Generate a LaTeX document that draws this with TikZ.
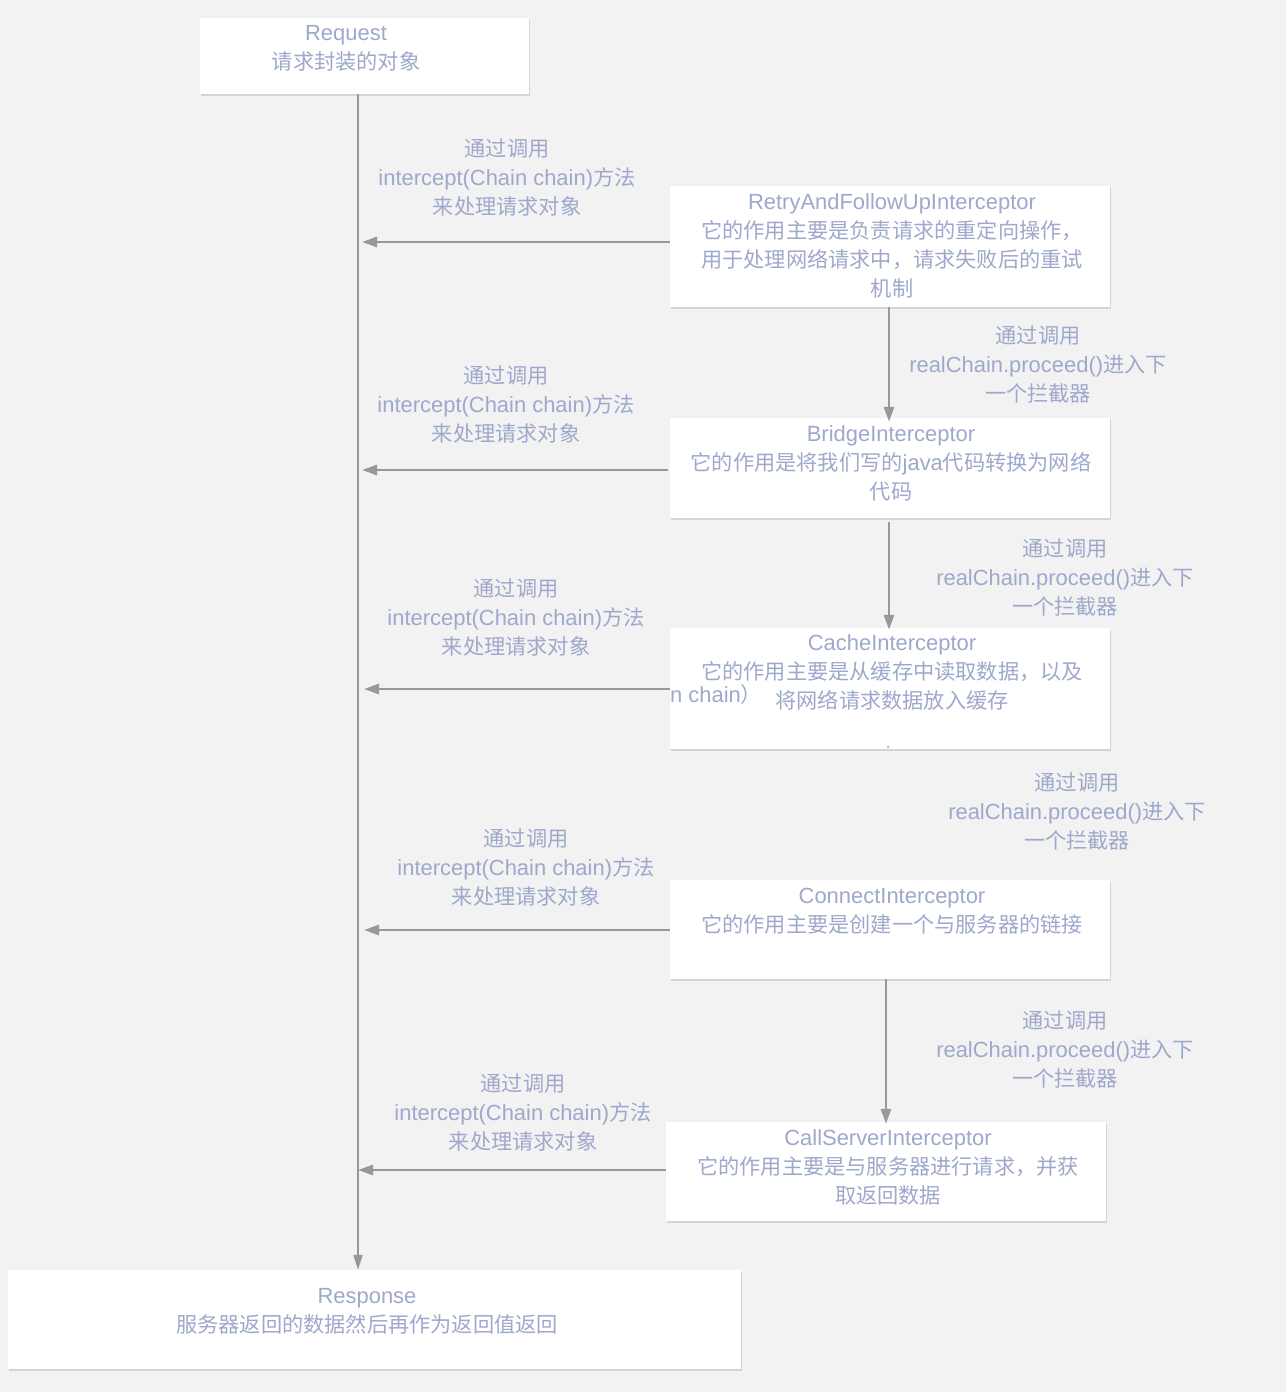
\documentclass[tikz,border=0pt]{standalone}
\usepackage{fontspec}
\setmainfont[Scale=1.035]{Liberation Sans}
\newfontfamily\cjkf{Noto Sans CJK SC}
\newcommand{\zh}[1]{{\cjkf #1}}
\usetikzlibrary{arrows.meta,shadows}
\definecolor{bg}{RGB}{242,242,242}
\definecolor{txt}{RGB}{158,168,204}
\definecolor{ln}{RGB}{152,152,152}
\tikzset{
  box/.style={draw=none,fill=white,inner sep=0pt,
    drop shadow={shadow xshift=1pt,shadow yshift=-2pt,opacity=0.12,fill=black}},
  tx/.style={text=txt,align=center,inner sep=0pt,font=\fontsize{21.2}{29}\selectfont},
  arr/.style={draw=ln,line width=2.8pt,-{Triangle[length=15pt,width=10pt]}},
  mainln/.style={draw=ln,line width=2pt,-{Triangle[length=15pt,width=9pt]}}
}
\begin{document}
\begin{tikzpicture}[x=1pt,y=-1pt]
\fill[bg] (0,0) rectangle (1286,1392);
\useasboundingbox (0,0) rectangle (1286,1392);
% boxes
\node[box,minimum width=329pt,minimum height=76pt] (req) at (364.5,56) {};
\node[box,minimum width=733pt,minimum height=99pt] (resp) at (374.5,1319.5) {};
\node[box,minimum width=440pt,minimum height=121pt] (retry) at (890,246.5) {};
\node[box,minimum width=440pt,minimum height=100pt] (bridge) at (890,468) {};
\node[box,minimum width=440pt,minimum height=121pt] (cache) at (890,688.5) {};
\node[box,minimum width=440pt,minimum height=99pt] (conn) at (890,929.5) {};
\node[box,minimum width=440pt,minimum height=99pt] (call) at (886,1171.5) {};
% box texts
\node[tx] (reqt) at (346,48) {Request\\\zh{请求封装的对象}};
\node[tx] (respt) at (367,1311) {Response\\\zh{服务器返回的数据然后再作为返回值返回}};
\node[tx] (retryt) at (892,245.5) {RetryAndFollowUpInterceptor\\\zh{它的作用主要是负责请求的重定向操作，}\\\zh{用于处理网络请求中，请求失败后的重试}\\\zh{机制}};
\node[tx] (bridget) at (891,463.5) {BridgeInterceptor\\\zh{它的作用是将我们写的}java\zh{代码转换为网络}\\\zh{代码}};
\node[tx] (cachet) at (892,672) {CacheInterceptor\\\zh{它的作用主要是从缓存中读取数据，以及}\\\zh{将网络请求数据放入缓存}};
\node[tx,anchor=west] (cachefrag) at (670,694.5) {n chain\zh{）}};
\node[circle,fill=ln!80,inner sep=0pt,minimum size=2.5pt] (dot) at (888,747) {};
\node[tx] (connt) at (892,911) {ConnectInterceptor\\\zh{它的作用主要是创建一个与服务器的链接}};
\node[tx] (callt) at (888,1167.5) {CallServerInterceptor\\\zh{它的作用主要是与服务器进行请求，并获}\\\zh{取返回数据}};
% main line
\coordinate (mtop) at (358,94);
\coordinate (mbot) at (358,1270);
\draw[mainln] (req.south -| mtop) -- (resp.north -| mbot);
% horizontal arrows
\coordinate (m1) at (362,242);
\coordinate (m2) at (362,470);
\coordinate (m3) at (364,689);
\coordinate (m4) at (364,930);
\coordinate (m5) at (358,1170);
\draw[arr] (retry.west |- m1) -- (m1);
\draw[arr] ([xshift=-2pt]bridge.west |- m2) -- (m2);
\draw[arr] (cache.west |- m3) -- (m3);
\draw[arr] (conn.west |- m4) -- (m4);
\draw[arr] (call.west |- m5) -- (m5);
% vertical arrows
\coordinate (v1) at (889,0);
\coordinate (v3) at (886,0);
\draw[arr] (retry.south -| v1) -- ([yshift=-4pt]bridge.north -| v1);
\draw[arr] ([yshift=-4pt]bridge.south -| v1) -- ([yshift=-2pt]cache.north -| v1);
\draw[arr] (conn.south -| v3) -- ([yshift=-2pt]call.north -| v3);
% left labels
\node[tx] (l1) at (507,177.5) {\zh{通过调用}\\intercept(Chain chain)\zh{方法}\\\zh{来处理请求对象}};
\node[tx] (l2) at (506,404.5) {\zh{通过调用}\\intercept(Chain chain)\zh{方法}\\\zh{来处理请求对象}};
\node[tx] (l3) at (516,617.5) {\zh{通过调用}\\intercept(Chain chain)\zh{方法}\\\zh{来处理请求对象}};
\node[tx] (l4) at (526,867.5) {\zh{通过调用}\\intercept(Chain chain)\zh{方法}\\\zh{来处理请求对象}};
\node[tx] (l5) at (523,1112.5) {\zh{通过调用}\\intercept(Chain chain)\zh{方法}\\\zh{来处理请求对象}};
% right labels
\node[tx] (r1) at (1038,364.5) {\zh{通过调用}\\realChain.proceed()\zh{进入下}\\\zh{一个拦截器}};
\node[tx] (r2) at (1065,577.5) {\zh{通过调用}\\realChain.proceed()\zh{进入下}\\\zh{一个拦截器}};
\node[tx] (r3) at (1077,811.5) {\zh{通过调用}\\realChain.proceed()\zh{进入下}\\\zh{一个拦截器}};
\node[tx] (r4) at (1065,1049.5) {\zh{通过调用}\\realChain.proceed()\zh{进入下}\\\zh{一个拦截器}};
\end{tikzpicture}
\end{document}
